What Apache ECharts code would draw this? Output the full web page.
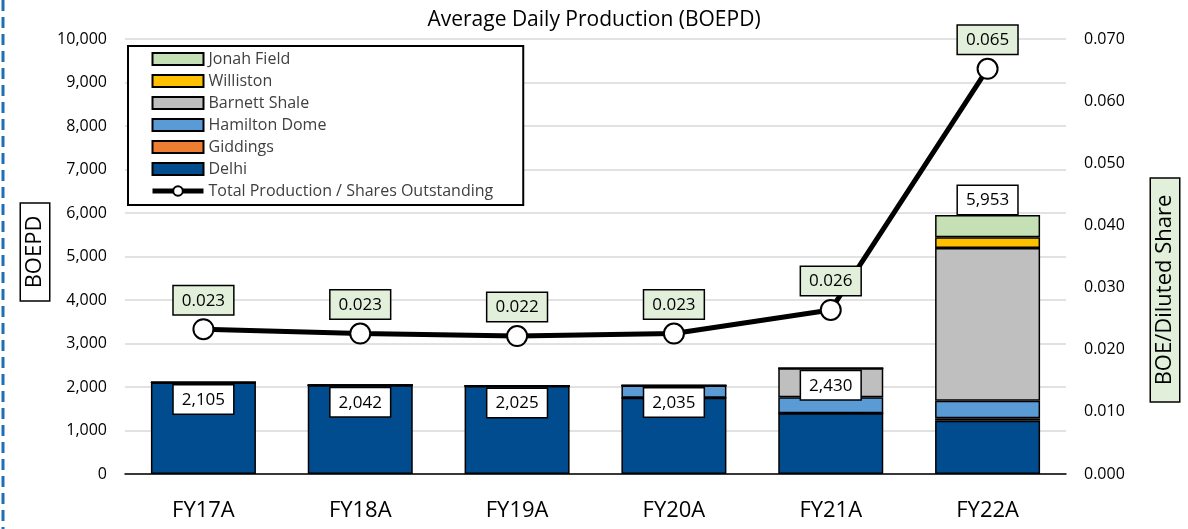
<!DOCTYPE html>
<html>
<head>
<meta charset="utf-8">
<script src="https://cdn.jsdelivr.net/npm/echarts@6/dist/echarts.min.js"></script>
<style>
  html, body { margin: 0; padding: 0; background: #fff; }
  #chart { width: 1188px; height: 529px; }
</style>
</head>
<body>
<div id="chart"></div>
<script>
const categories = ["FY17A", "FY18A", "FY19A", "FY20A", "FY21A", "FY22A"];

// BOEPD by asset (stacked, bottom to top)
const delhi = [2105, 2042, 2025, 1754, 1395, 1225];
const giddings = [0, 0, 0, 0, 0, 55];
const hamiltonDome = [0, 0, 0, 281, 370, 405];
const barnettShale = [0, 0, 0, 0, 665, 3510];
const williston = [0, 0, 0, 0, 0, 246];
const jonahField = [0, 0, 0, 0, 0, 512];
const totals = [2105, 2042, 2025, 2035, 2430, 5953];

// BOE per diluted share
const perShare = [0.0233, 0.0226, 0.0222, 0.0226, 0.0264, 0.0652];

const leftTicks = { min: 0, max: 10000, interval: 1000 };
const rightTicks = { min: 0, max: 0.07, interval: 0.01 };

const font = "'Open Sans', 'Noto Sans', sans-serif";
const chart = echarts.init(document.getElementById("chart"));

const barSeries = (name, data, color) => ({
  name,
  type: "bar",
  stack: "prod",
  data,
  barWidth: 105,
  itemStyle: { color, borderColor: "#000", borderWidth: 1.5 },
  emphasis: { disabled: true },
});

const lineName = "Total Production / Shares Outstanding";

chart.setOption({
  animation: false,
  textStyle: { fontFamily: font },
  title: {
    text: "Average Daily Production (BOEPD)",
    left: "center",
    top: 5,
    textStyle: { fontFamily: font, fontSize: 21, fontWeight: "normal", color: "#000" },
  },
  grid: { left: 125, right: 122, top: 39, bottom: 55 },
  legend: {
    orient: "vertical",
    left: 128,
    top: 46,
    padding: [5, 30, 6, 22],
    itemWidth: 51,
    itemHeight: 12,
    itemGap: 6,
    backgroundColor: "#fff",
    borderColor: "#000",
    borderWidth: 2,
    textStyle: { fontFamily: font, fontSize: 16, color: "#404040" },
    data: ["Jonah Field", "Williston", "Barnett Shale", "Hamilton Dome", "Giddings", "Delhi"]
      .map((name) => ({ name, icon: "rect" }))
      .concat([{ name: lineName, lineStyle: { width: 5 } }]),
  },
  graphic: [
    {
      type: "line",
      shape: { x1: 3, y1: 0, x2: 3, y2: 529 },
      style: { stroke: "#1F6FB5", lineWidth: 3, lineDash: [11, 6] },
    },
    {
      type: "text",
      x: 35, y: 252,
      rotation: Math.PI / 2,
      style: {
        text: "BOEPD",
        font: "22px " + font,
        fill: "#000",
        align: "center",
        verticalAlign: "middle",
        backgroundColor: "#fff",
        borderColor: "#000",
        borderWidth: 1.5,
        padding: [3, 12, 3, 12],
      },
    },
    {
      type: "text",
      x: 1165, y: 290,
      rotation: Math.PI / 2,
      style: {
        text: "BOE/Diluted Share",
        font: "22px " + font,
        fill: "#000",
        align: "center",
        verticalAlign: "middle",
        backgroundColor: "#E2EFDA",
        borderColor: "#000",
        borderWidth: 1.5,
        padding: [3, 16, 3, 16],
      },
    },
  ],
  xAxis: {
    type: "category",
    data: categories,
    axisLine: { lineStyle: { color: "#000", width: 1.5 } },
    axisTick: { show: false },
    axisLabel: { fontSize: 22, color: "#000", margin: 26 },
  },
  yAxis: [
    {
      type: "value",
      ...leftTicks,
      axisLine: { show: false },
      axisTick: { show: false },
      axisLabel: {
        fontSize: 16, color: "#000", margin: 18,
        formatter: (v) => v.toLocaleString("en-US"),
      },
      splitLine: { lineStyle: { color: "#D9D9D9", width: 1.5 } },
    },
    {
      type: "value",
      ...rightTicks,
      axisLine: { show: false },
      axisTick: { show: false },
      axisLabel: {
        fontSize: 16, color: "#000", margin: 18,
        formatter: (v) => v.toFixed(3),
      },
      splitLine: { show: false },
    },
  ],
  series: [
    barSeries("Delhi", delhi, "#004C8E"),
    barSeries("Giddings", giddings, "#ED7D31"),
    barSeries("Hamilton Dome", hamiltonDome, "#5B9BD5"),
    barSeries("Barnett Shale", barnettShale, "#BFBFBF"),
    barSeries("Williston", williston, "#FFC000"),
    barSeries("Jonah Field", jonahField, "#C5E0B4"),
    {
      name: "Totals",
      type: "scatter",
      data: totals.map((v, i) => ({
        value: v,
        label: i === totals.length - 1 ? { position: "top", distance: 1 } : {},
      })),
      symbolSize: 0,
      z: 5,
      silent: true,
      itemStyle: { opacity: 1 },
      label: {
        show: true,
        position: "bottom",
        distance: 3,
        formatter: (p) => p.value.toLocaleString("en-US"),
        fontSize: 17,
        color: "#000",
        backgroundColor: "#fff",
        borderColor: "#000",
        borderWidth: 1.5,
        padding: [6, 8, 5, 8],
      },
    },
    {
      name: lineName,
      type: "line",
      yAxisIndex: 1,
      data: perShare,
      z: 6,
      symbol: "circle",
      symbolSize: 20,
      lineStyle: { color: "#000", width: 5 },
      itemStyle: { color: "#fff", borderColor: "#000", borderWidth: 2 },
      label: {
        show: true,
        position: "top",
        distance: 4,
        formatter: (p) => p.value.toFixed(3),
        fontSize: 17,
        color: "#000",
        backgroundColor: "#E2EFDA",
        borderColor: "#000",
        borderWidth: 1.5,
        padding: [6, 8, 5, 8],
      },
    },
  ],
});
</script>
</body>
</html>
